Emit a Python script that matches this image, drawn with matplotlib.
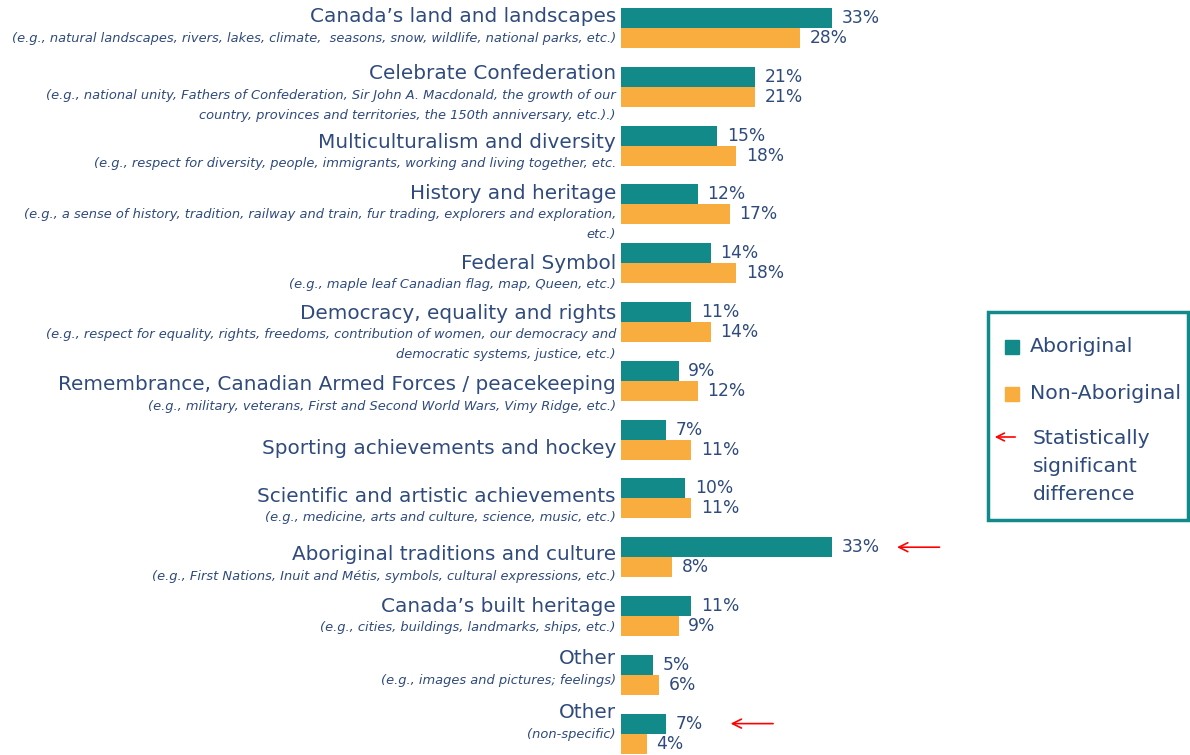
import matplotlib.pyplot as plt
from matplotlib.patches import Rectangle
import numpy as np

plt.rcParams['font.family'] = ['DejaVu Sans']

# themes and examples
themes = [
    "Canada\u2019s land and landscapes",
    "Celebrate Confederation",
    "Multiculturalism and diversity",
    "History and heritage",
    "Federal Symbol",
    "Democracy, equality and rights",
    "Remembrance, Canadian Armed Forces / peacekeeping",
    "Sporting achievements and hockey",
    "Scientific and artistic achievements",
    "Aboriginal traditions and culture",
    "Canada\u2019s built heritage",
    "Other",
    "Other",
]
examples = [
    "(e.g., natural landscapes, rivers, lakes, climate,  seasons, snow, wildlife, national parks, etc.)",
    "(e.g., national unity, Fathers of Confederation, Sir John A. Macdonald, the growth of our\ncountry, provinces and territories, the 150th anniversary, etc.).)",
    "(e.g., respect for diversity, people, immigrants, working and living together, etc.",
    "(e.g., a sense of history, tradition, railway and train, fur trading, explorers and exploration,\netc.)",
    "(e.g., maple leaf Canadian flag, map, Queen, etc.)",
    "(e.g., respect for equality, rights, freedoms, contribution of women, our democracy and\ndemocratic systems, justice, etc.)",
    "(e.g., military, veterans, First and Second World Wars, Vimy Ridge, etc.)",
    "",
    "(e.g., medicine, arts and culture, science, music, etc.)",
    "(e.g., First Nations, Inuit and M\u00e9tis, symbols, cultural expressions, etc.)",
    "(e.g., cities, buildings, landmarks, ships, etc.)",
    "(e.g., images and pictures; feelings)",
    "(non-specific)",
]
aboriginal = [33, 21, 15, 12, 14, 11, 9, 7, 10, 33, 11, 5, 7]
non_aboriginal = [28, 21, 18, 17, 18, 14, 12, 11, 11, 8, 9, 6, 4]
significant = [False, False, False, False, False, False, False, False, False, True, False, False, True]

teal = "#138a8a"
orange = "#f9ad3e"
navy = "#2f4a7c"

# pixel offsets of the theme title from the group centre (text boxes were placed by hand)
title_off = [-11, -13, -3.5, -11, 0, -8.5, 4, 9, -2, -2.5, -10, -16, -21]

W, H = 1190, 755
fig = plt.figure(figsize=(W / 100, H / 100), dpi=100)

px_unit = 58.8  # pixels per group
top_px = 28
ax = fig.add_axes([621 / W, 0, 320 / W, 1])
ax.set_xlim(0, 50)
ax.set_ylim(12 + (H - top_px - 12 * px_unit) / px_unit, -top_px / px_unit)
ax.axis("off")

y = np.arange(len(themes))
h = 0.34
ax.barh(y - h / 2, aboriginal, height=h, color=teal)
ax.barh(y + h / 2, non_aboriginal, height=h, color=orange)

for i in range(len(themes)):
    ax.annotate(f"{aboriginal[i]}%", (aboriginal[i], y[i] - h / 2), xytext=(7, 0),
                textcoords="offset points", va="center", ha="left", fontsize=12.3, color=navy)
    ax.annotate(f"{non_aboriginal[i]}%", (non_aboriginal[i], y[i] + h / 2), xytext=(7, 0),
                textcoords="offset points", va="center", ha="left", fontsize=12.3, color=navy)
    if significant[i]:
        ax.annotate("", xy=(aboriginal[i] + 9.7, y[i] - h / 2), xytext=(aboriginal[i] + 17.2, y[i] - h / 2),
                    arrowprops=dict(arrowstyle="->", color="red", lw=1.2, mutation_scale=16))

    ty = y[i] + title_off[i] / px_unit
    ax.text(-0.8, ty, themes[i], ha="right", va="center", fontsize=14.4, color=navy)
    if examples[i]:
        ax.text(-0.8, ty + 15 / px_unit, examples[i], ha="right", va="top", fontsize=9.35,
                style="italic", color=navy, linespacing=1.68)

# legend box
fig.patches.append(Rectangle((988 / W, 1 - 520 / H), 200 / W, 208 / H, transform=fig.transFigure,
                             fill=False, edgecolor=teal, lw=2.5))
fig.patches.append(Rectangle((1005 / W, 1 - 354 / H), 14 / W, 14 / H, transform=fig.transFigure,
                             color=teal))
fig.patches.append(Rectangle((1005 / W, 1 - 401 / H), 14 / W, 14 / H, transform=fig.transFigure,
                             color=orange))
fig.text(1030 / W, 1 - 347 / H, "Aboriginal", va="center", fontsize=14.7, color=navy)
fig.text(1030 / W, 1 - 394 / H, "Non-Aboriginal", va="center", fontsize=14.7, color=navy)
fig.text(1033 / W, 1 - 467 / H, "Statistically\nsignificant\ndifference", va="center", fontsize=14.6,
         color=navy, linespacing=1.6)
fig.add_artist(plt.Annotation("", xy=(992 / W, 1 - 437 / H), xytext=(1018 / W, 1 - 437 / H),
                              xycoords="figure fraction", textcoords="figure fraction",
                              arrowprops=dict(arrowstyle="->", color="red", lw=1.2, mutation_scale=14)))

fig.savefig("out.png", dpi=100)
